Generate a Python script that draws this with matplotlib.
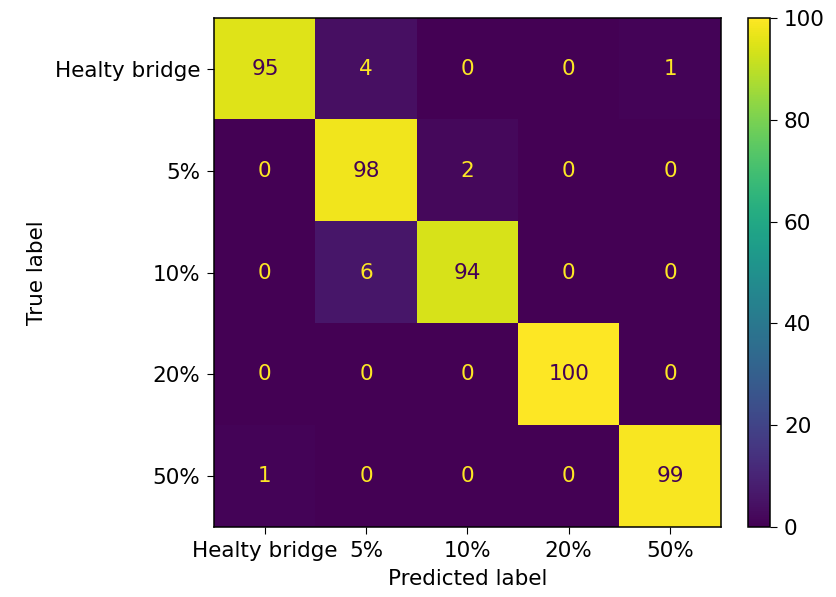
import numpy as np
import matplotlib.pyplot as plt

# ================= DATA =================
labels = ["Healty bridge", "5%", "10%", "20%", "50%"]
row_healthy = [95, 4, 0, 0, 1]
row_5 = [0, 98, 2, 0, 0]
row_10 = [0, 6, 94, 0, 0]
row_20 = [0, 0, 0, 100, 0]
row_50 = [1, 0, 0, 0, 99]

cm = np.array([row_healthy, row_5, row_10, row_20, row_50])

# image looks like a ~1.4x upscaled default sklearn plot
plt.rcParams['font.size'] = 15.5
plt.rcParams['xtick.major.size'] = 5
plt.rcParams['ytick.major.size'] = 5
plt.rcParams['xtick.major.pad'] = 5
plt.rcParams['ytick.major.pad'] = 5
plt.rcParams['axes.labelpad'] = 6
plt.rcParams['axes.linewidth'] = 1.1

fig = plt.figure(figsize=(8.37, 5.97), dpi=100)
ax = fig.add_axes([0.256, 0.117, 0.605, 0.853])
cax = fig.add_axes([0.894, 0.117, 0.026, 0.853])

cmap = plt.get_cmap('viridis')
im = ax.imshow(cm, cmap=cmap, vmin=0, vmax=100, interpolation='nearest', aspect='auto')

# text color like sklearn ConfusionMatrixDisplay
thresh = (cm.max() + cm.min()) / 2.0
for i in range(cm.shape[0]):
    for j in range(cm.shape[1]):
        color = cmap(0.0) if cm[i, j] > thresh else cmap(1.0)
        ax.text(j, i, str(cm[i, j]), ha='center', va='center', color=color)

ax.set_xticks(range(len(labels)))
ax.set_xticklabels(labels)
ax.set_yticks(range(len(labels)))
ax.set_yticklabels(labels)
ax.set_xlabel('Predicted label')
ax.set_ylabel('True label')

cb = fig.colorbar(im, cax=cax)
cb.set_ticks([0, 20, 40, 60, 80, 100])

plt.savefig('out.png', dpi=100)
